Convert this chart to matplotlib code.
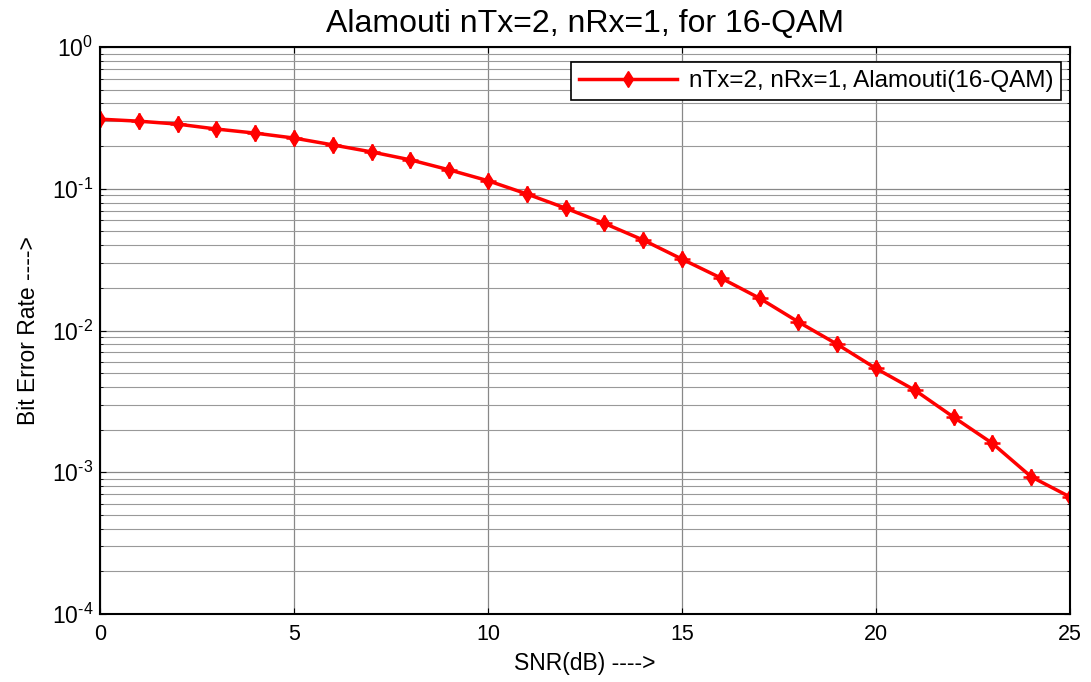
import matplotlib
matplotlib.use("Agg")
import matplotlib.pyplot as plt
import numpy as np
from matplotlib.ticker import LogLocator, NullFormatter, FuncFormatter

plt.rcParams['font.family'] = ['Liberation Sans', 'DejaVu Sans']
plt.rcParams['mathtext.fontset'] = 'custom'
plt.rcParams['mathtext.rm'] = 'Liberation Sans'
plt.rcParams['axes.unicode_minus'] = False

# SNR sweep and simulated BER for the Alamouti 2x1 link
snr_db = np.arange(0, 26)
ber = [0.31, 0.30, 0.286, 0.264, 0.247, 0.228, 0.204, 0.182, 0.160, 0.136,
       0.114, 0.092, 0.073, 0.057, 0.0435, 0.0319, 0.0235, 0.0169, 0.0115,
       0.0080, 0.0054, 0.0038, 0.00245, 0.0016, 0.00093, 0.00067]
series_label = "nTx=2, nRx=1, Alamouti(16-QAM)"

fig = plt.figure(figsize=(10.91, 6.82), dpi=100)
ax = fig.add_axes([0.0917, 0.0997, 0.8890, 0.8313])

ax.semilogy(snr_db, ber, '-', color='red', lw=2.5, marker='d', ms=8,
            mec='red', mfc='red', label=series_label)
ax.semilogy(snr_db, ber, ' ', color='red', marker='+', ms=11, mew=1.8)


def decade_label(v, pos):
    e = int(round(np.log10(v)))
    return r'$\mathrm{10}^{\text{%d}}$' % e


ax.set_xlim(0, 25)
ax.set_ylim(1e-4, 1)
ax.set_xticks(np.arange(0, 26, 5))
ax.yaxis.set_major_locator(LogLocator(base=10, numticks=10))
ax.yaxis.set_major_formatter(FuncFormatter(decade_label))
ax.yaxis.set_minor_locator(LogLocator(base=10, subs=np.arange(2, 10), numticks=20))
ax.yaxis.set_minor_formatter(NullFormatter())

ax.grid(True, which='major', color='#888888', lw=0.9)
ax.grid(True, which='minor', axis='y', color='#999999', lw=0.8)
ax.tick_params(which='both', direction='in', top=True, right=True,
               labelsize=15.5, length=4)
ax.tick_params(axis='x', pad=7)
ax.tick_params(axis='y', labelsize=16.5, pad=5)
ax.tick_params(which='minor', length=2.5)
for s in ax.spines.values():
    s.set_linewidth(1.5)

ax.set_title("Alamouti nTx=2, nRx=1, for 16-QAM", fontsize=23, pad=11)
ax.set_xlabel("SNR(dB) ---->", fontsize=16.5, labelpad=5)
ax.set_ylabel("Bit Error Rate ---->", fontsize=16.5, labelpad=8)

leg = ax.legend(loc='upper right', fontsize=17.5, fancybox=False,
                edgecolor='black', framealpha=1, borderpad=0.33,
                handlelength=4.0, handletextpad=0.5, borderaxespad=0,
                bbox_to_anchor=(0.991, 0.973))
leg.get_frame().set_linewidth(1.2)

fig.savefig("out.png", dpi=100)
